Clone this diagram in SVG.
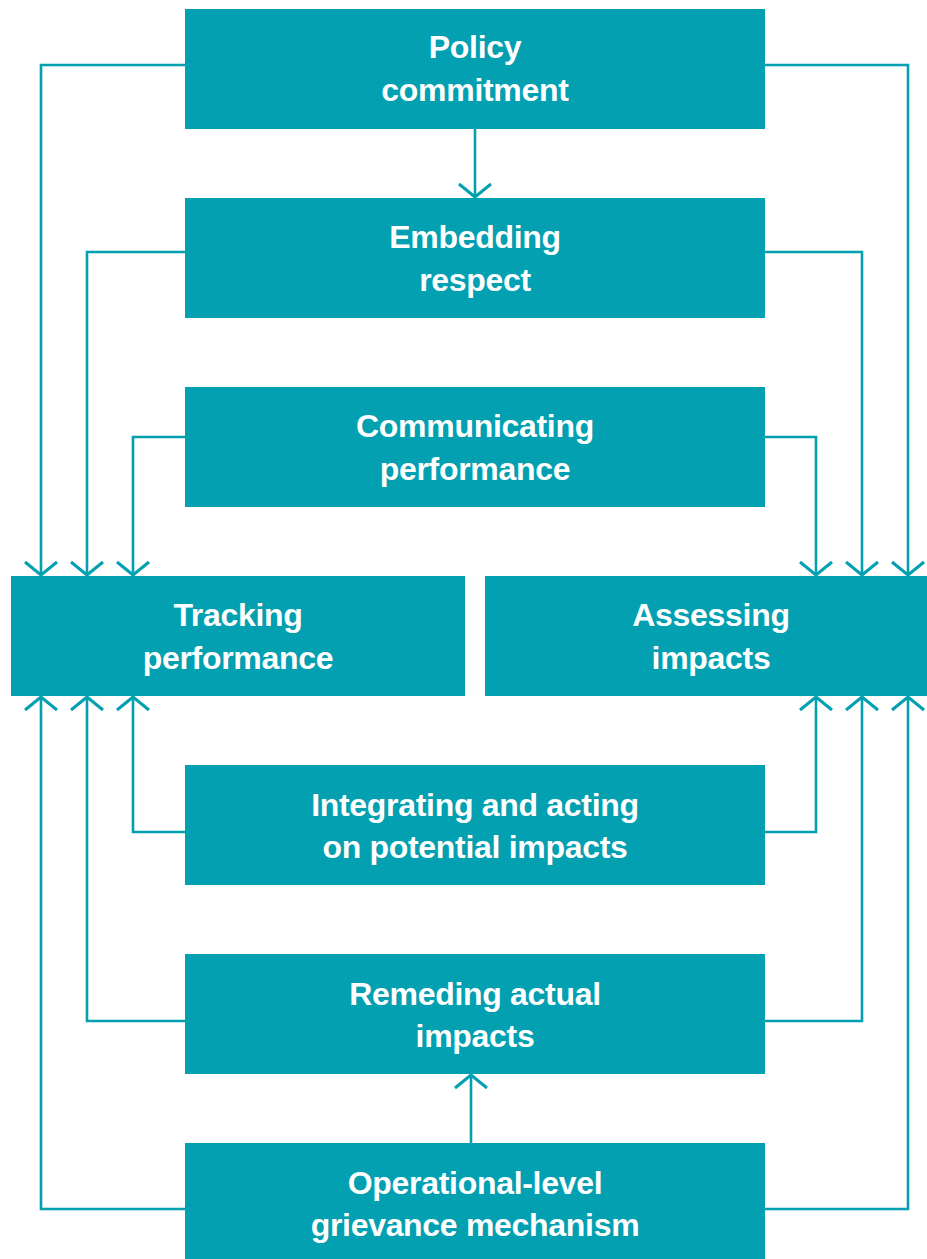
<svg xmlns="http://www.w3.org/2000/svg" width="927" height="1259" viewBox="0 0 927 1259">
<style>
.box{fill:#02a0b1}
.t{fill:#fff;font-family:"Liberation Sans",Arial,sans-serif;font-weight:bold;font-size:32px;letter-spacing:-0.3px;text-anchor:middle}
.c{fill:none;stroke:#02a0b1;stroke-width:2.6}
</style>
<defs>
<marker id="ah" markerWidth="40" markerHeight="40" viewBox="-20 -20 40 40" refX="0" refY="0" orient="auto" markerUnits="userSpaceOnUse">
<path d="M-13,-16 L0,0 L-13,16" fill="none" stroke="#02a0b1" stroke-width="3"/>
</marker>
</defs>
<rect width="927" height="1259" fill="#fff"/>
<g id="connectors">
<path class="c" d="M185,65 H41 V575" marker-end="url(#ah)"/>
<path class="c" d="M765,65 H908 V575" marker-end="url(#ah)"/>
<path class="c" d="M185,252 H87 V575" marker-end="url(#ah)"/>
<path class="c" d="M765,252 H862 V575" marker-end="url(#ah)"/>
<path class="c" d="M185,437 H133 V575" marker-end="url(#ah)"/>
<path class="c" d="M765,437 H816 V575" marker-end="url(#ah)"/>
<path class="c" d="M185,832 H133 V697" marker-end="url(#ah)"/>
<path class="c" d="M765,832 H816 V697" marker-end="url(#ah)"/>
<path class="c" d="M185,1021 H87 V697" marker-end="url(#ah)"/>
<path class="c" d="M765,1021 H862 V697" marker-end="url(#ah)"/>
<path class="c" d="M185,1209 H41 V697" marker-end="url(#ah)"/>
<path class="c" d="M765,1209 H908 V697" marker-end="url(#ah)"/>
<path class="c" d="M475,129 V197" marker-end="url(#ah)"/>
<path class="c" d="M471,1143 V1075" marker-end="url(#ah)"/>
</g>
<g id="policy"><rect class="box" x="185" y="9" width="580" height="120"/><text class="t" x="475" y="58">Policy</text><text class="t" x="475" y="101">commitment</text></g>
<g id="embedding"><rect class="box" x="185" y="198" width="580" height="120"/><text class="t" x="475" y="248">Embedding</text><text class="t" x="475" y="291">respect</text></g>
<g id="communicating"><rect class="box" x="185" y="387" width="580" height="120"/><text class="t" x="475" y="437">Communicating</text><text class="t" x="475" y="480">performance</text></g>
<g id="tracking"><rect class="box" x="11" y="576" width="454" height="120"/><text class="t" x="238" y="626">Tracking</text><text class="t" x="238" y="669">performance</text></g>
<g id="assessing"><rect class="box" x="485" y="576" width="442" height="120"/><text class="t" x="711" y="626">Assessing</text><text class="t" x="711" y="669">impacts</text></g>
<g id="integrating"><rect class="box" x="185" y="765" width="580" height="120"/><text class="t" x="475" y="816">Integrating and acting</text><text class="t" x="475" y="858">on potential impacts</text></g>
<g id="remeding"><rect class="box" x="185" y="954" width="580" height="120"/><text class="t" x="475" y="1005">Remeding actual</text><text class="t" x="475" y="1047">impacts</text></g>
<g id="operational"><rect class="box" x="185" y="1143" width="580" height="120"/><text class="t" x="475" y="1194">Operational-level</text><text class="t" x="475" y="1236">grievance mechanism</text></g>
</svg>
